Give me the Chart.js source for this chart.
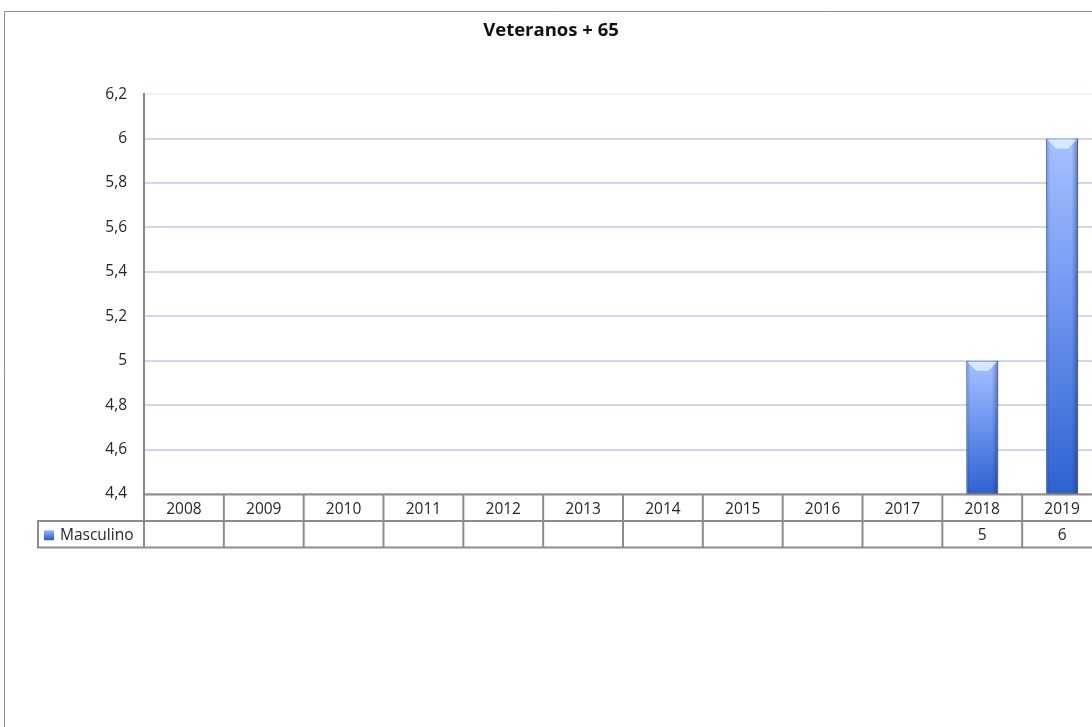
<!DOCTYPE html>
<html>
<head>
<meta charset="utf-8">
<script src="https://cdn.jsdelivr.net/npm/chart.js@4.4.1/dist/chart.umd.min.js"></script>
<style>
  html, body { margin: 0; padding: 0; background: #fff; overflow: hidden; }
  #wrap { position: relative; width: 1092px; height: 727px; overflow: hidden; }
  canvas { display: block; }
</style>
</head>
<body>
<div id="wrap"><canvas id="c" width="1102" height="727"></canvas></div>
<script>
// ---- data ----
const categories = ['2008','2009','2010','2011','2012','2013','2014','2015','2016','2017','2018','2019'];
const masculino = [null, null, null, null, null, null, null, null, null, null, 5, 6];
const seriesName = 'Masculino';
const chartTitle = 'Veteranos + 65';
const yMin = 4.4, yMax = 6.2, yStep = 0.2;

const FONT = "'Open Sans', 'DejaVu Sans', sans-serif";
const LINE = '#8c8c8c';
const TEXT = '#262626';

function fmt(v) {
  return String(Number(v.toFixed(1))).replace('.', ',');
}

const framePlugin = {
  id: 'frame',
  beforeDraw(chart) {
    const c = chart.ctx;
    c.save();
    c.fillStyle = '#fff';
    c.fillRect(0, 0, chart.width, chart.height);
    c.strokeStyle = LINE;
    c.lineWidth = 1;
    c.beginPath();
    c.moveTo(4.5, chart.height);
    c.lineTo(4.5, 11.5);
    c.lineTo(chart.width, 11.5);
    c.stroke();
    c.restore();
  }
};

const barDecor = {
  id: 'barDecor',
  afterDatasetsDraw(chart) {
    const c = chart.ctx;
    const meta = chart.getDatasetMeta(0);
    const area = chart.chartArea;
    c.save();
    c.beginPath();
    c.rect(area.left, area.top - 2, area.right - area.left, area.bottom - area.top + 2);
    c.clip();
    meta.data.forEach((el, i) => {
      if (masculino[i] == null) return;
      const p = el.getProps(['x', 'y', 'width'], true);
      const l = p.x - p.width / 2, r = p.x + p.width / 2, t = p.y, b = area.bottom;
      // side shading
      const g = c.createLinearGradient(l, 0, r, 0);
      g.addColorStop(0, 'rgba(20,40,110,0.35)');
      g.addColorStop(0.12, 'rgba(20,40,110,0.0)');
      g.addColorStop(0.8, 'rgba(20,40,110,0.0)');
      g.addColorStop(1, 'rgba(20,40,110,0.45)');
      c.fillStyle = g;
      c.fillRect(l, t, r - l, b - t);
      // top bevel
      c.fillStyle = 'rgba(225,238,255,0.85)';
      c.beginPath();
      c.moveTo(l + 1, t + 1);
      c.lineTo(r - 1, t + 1);
      c.lineTo(r - 10, t + 10);
      c.lineTo(l + 10, t + 10);
      c.closePath();
      c.fill();
    });
    c.restore();
  }
};

const tablePlugin = {
  id: 'dataTable',
  afterDraw(chart) {
    const c = chart.ctx;
    const x = chart.scales.x;
    const area = chart.chartArea;
    const top = area.bottom + 0.5;
    const rowH = 26.5;
    const mid = top + rowH;
    const bot = top + 2 * rowH;
    const legendLeft = 38;
    const n = categories.length;
    const cw = (x.right - x.left) / n;
    c.save();
    c.strokeStyle = LINE;
    c.lineWidth = 2;
    c.beginPath();
    c.moveTo(x.left - 1, top); c.lineTo(chart.width, top);
    c.moveTo(legendLeft - 1, mid); c.lineTo(chart.width, mid);
    c.moveTo(legendLeft - 1, bot); c.lineTo(chart.width, bot);
    c.moveTo(legendLeft, mid); c.lineTo(legendLeft, bot);
    for (let i = 0; i <= n; i++) {
      const xx = x.getPixelForValue(i) - cw / 2;
      c.moveTo(xx, top); c.lineTo(xx, bot);
    }
    c.stroke();
    // legend cell
    const ly = (mid + bot) / 2;
    const sg = c.createLinearGradient(0, ly - 4, 0, ly + 5);
    sg.addColorStop(0, '#9db9f7');
    sg.addColorStop(1, '#2f5fc8');
    c.fillStyle = sg;
    c.fillRect(44, ly - 4, 10, 10);
    c.fillStyle = TEXT;
    c.font = "15.5px " + FONT;
    c.textBaseline = 'middle';
    c.textAlign = 'left';
    c.fillText(seriesName, 60, ly + 1);
    c.textAlign = 'center';
    masculino.forEach((v, i) => {
      if (v == null) return;
      c.fillText(fmt(v), x.getPixelForValue(i), ly + 1);
    });
    c.restore();
  }
};

const chart = new Chart(document.getElementById('c'), {
  type: 'bar',
  data: {
    labels: categories,
    datasets: [{
      label: seriesName,
      data: masculino,
      barPercentage: 0.4,
      categoryPercentage: 1,
      borderWidth: 1,
      borderColor: 'rgba(35,70,150,0.7)',
      borderSkipped: false,
      backgroundColor(ctx) {
        const ch = ctx.chart;
        const area = ch.chartArea;
        if (!area || ctx.raw == null) return '#5580e0';
        const ys = ch.scales.y;
        const t = ys.getPixelForValue(ctx.raw);
        const g = ch.ctx.createLinearGradient(0, t, 0, area.bottom);
        g.addColorStop(0, '#a6c2ff');
        g.addColorStop(0.5, '#6b93ef');
        g.addColorStop(1, '#2e62cf');
        return g;
      }
    }]
  },
  options: {
    responsive: false,
    animation: false,
    layout: { padding: { top: 0, left: 0, right: 0, bottom: 180 } },
    plugins: {
      legend: { display: false },
      tooltip: { enabled: false },
      title: {
        display: true,
        text: chartTitle,
        color: '#111',
        font: { family: FONT, size: 18.5, weight: 'bold' },
        padding: { top: 19.5, bottom: 52.5 }
      }
    },
    scales: {
      x: {
        grid: { display: false, drawTicks: false },
        border: { display: false },
        ticks: { color: TEXT, font: { family: FONT, size: 15.5 }, padding: 6, maxRotation: 0, autoSkip: false },
        afterFit(s) { s.height = 53; }
      },
      y: {
        min: yMin, max: yMax,
        grid: {
          drawTicks: false,
          lineWidth: 2,
          color(ctx) { return ctx.tick && ctx.tick.value >= yMax - 1e-6 ? '#eef2fa' : '#cbd8ee'; }
        },
        border: { display: true, color: '#888', width: 2 },
        ticks: {
          stepSize: yStep,
          padding: 17,
          color: TEXT,
          font: { family: FONT, size: 15.5 },
          callback(v) { return fmt(v); }
        },
        afterFit(s) { s.width = 144; }
      }
    }
  },
  plugins: [framePlugin, barDecor, tablePlugin]
});
</script>
</body>
</html>
